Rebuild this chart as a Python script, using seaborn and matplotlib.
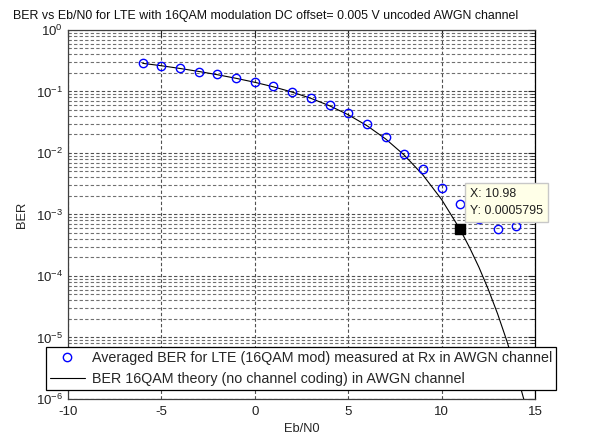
import numpy as np
import pandas as pd
import matplotlib
matplotlib.use("Agg")
import matplotlib.pyplot as plt
from matplotlib.lines import Line2D
from matplotlib.ticker import LogLocator, NullFormatter, MultipleLocator
import seaborn as sns

# Measured averaged BER (16QAM, DC offset 0.005 V, AWGN)
ebn0_meas = [-6, -5, -4, -3, -2, -1, 0, 1, 2, 3, 4, 5, 6, 7, 8, 9, 10, 11, 12, 13, 14]
ber_meas = [0.294, 0.263, 0.238, 0.210, 0.190, 0.168, 0.141, 0.123, 0.0993, 0.0775,
            0.061, 0.0442, 0.0295, 0.018, 0.0098, 0.0054, 0.00273, 0.0015, 0.00085,
            0.00058, 0.00065]

# Theoretical 16QAM BER curve (no channel coding)
ebn0_theory = [-6, -5, -4, -3, -2, -1, 0, 1, 2, 3, 4, 5, 6, 7, 8, 9, 10,
               10.98, 11.5, 12, 12.5, 13, 13.5, 14, 14.5, 15]
ber_theory = [0.2868, 0.2621, 0.2367, 0.2117, 0.1872, 0.1637, 0.1410, 0.1190,
              0.09774, 0.07745, 0.05862, 0.04189, 0.02787, 0.01697, 0.009248,
              0.00439, 0.001754, 0.0005795, 0.0002893, 0.0001387, 6.068e-05,
              2.421e-05, 8.68e-06, 2.762e-06, 7.70e-07, 1.846e-07]

# Data tip
tip_x = 10.98
tip_y = 0.0005795

title = "BER vs Eb/N0 for LTE with 16QAM modulation DC offset= 0.005 V uncoded AWGN channel"
label_meas = "Averaged BER for LTE (16QAM mod) measured at Rx in AWGN channel"
label_theory = "BER 16QAM theory (no channel coding) in AWGN channel"

sns.set_style("white")
plt.rcParams["font.family"] = ["Liberation Sans", "DejaVu Sans"]
plt.rcParams["mathtext.fontset"] = "custom"
plt.rcParams["mathtext.rm"] = "Liberation Sans"
plt.rcParams["mathtext.it"] = "Liberation Sans"
plt.rcParams["mathtext.default"] = "regular"
plt.rcParams["axes.unicode_minus"] = False

fs = 8.9

fig = plt.figure(figsize=(5.98, 4.37), dpi=100)
fig.patch.set_facecolor("white")
ax = fig.add_axes([0.1137, 0.0870, 0.7809, 0.8444])

df_meas = pd.DataFrame({"EbN0": ebn0_meas, "BER": ber_meas})
df_theory = pd.DataFrame({"EbN0": ebn0_theory, "BER": ber_theory})

sns.lineplot(data=df_theory, x="EbN0", y="BER", ax=ax, color="black", lw=0.8,
             zorder=3, estimator=None, sort=False)
sns.lineplot(data=df_meas, x="EbN0", y="BER", ax=ax, marker="o", linestyle="none",
             mfc="none", mec="#0000FF", mew=1.0, ms=6, zorder=4,
             estimator=None, sort=False)

ax.set_yscale("log")
ax.set_xlim(-10, 15)
ax.set_ylim(1e-6, 1)
ax.xaxis.set_major_locator(MultipleLocator(5))
ax.yaxis.set_major_locator(LogLocator(base=10, numticks=10))
ax.yaxis.set_minor_locator(LogLocator(base=10, subs=np.arange(2, 10), numticks=20))
ax.yaxis.set_minor_formatter(NullFormatter())

grid_style = dict(linestyle=(0, (3, 2)), linewidth=0.8)
ax.grid(True, which="major", axis="both", color="#505050", **grid_style)
ax.grid(True, which="minor", axis="y", color="#707070", **grid_style)
ax.set_axisbelow(True)

for s in ax.spines.values():
    s.set_visible(True)
    s.set_color("#404040")
    s.set_linewidth(0.9)
ax.spines["right"].set_color("black")

ax.tick_params(which="both", direction="in", top=True, right=True,
               labelsize=fs + 0.6, colors="#202020")
ax.tick_params(which="major", length=5)
ax.tick_params(which="minor", length=3)
ax.tick_params(axis="x", pad=5)

fig.text(13 / 598, 1 - 16 / 437, title, fontsize=fs, ha="left", va="center",
         color="#101010")
ax.set_xlabel("Eb/N0", fontsize=fs + 0.4, labelpad=4)
ax.set_ylabel("BER", fontsize=fs + 0.4, labelpad=6)

# Data tip marker and box
ax.plot([tip_x], [tip_y], marker="s", ms=7, color="black", linestyle="none", zorder=6)
ax.annotate(f"X: {tip_x}\nY: {tip_y}", xy=(tip_x, tip_y), xytext=(10, 41),
            textcoords="offset pixels", ha="left", va="top", fontsize=fs,
            color="#202020", linespacing=1.6, zorder=7,
            bbox=dict(boxstyle="square,pad=0.4", fc="#FFFFE8", ec="#C8C8C8", lw=1.0))

handles = [
    Line2D([], [], marker="o", linestyle="none", mfc="none", mec="#0000FF", mew=1.0, ms=6),
    Line2D([], [], color="black", lw=0.8),
]
leg = ax.legend(handles, [label_meas, label_theory], loc="lower left",
                bbox_to_anchor=(0.0769, 0.1076), bbox_transform=fig.transFigure,
                fontsize=10.3, frameon=True, fancybox=False, framealpha=1,
                edgecolor="black", handlelength=2.4, handletextpad=0.5,
                borderpad=0.3, labelspacing=0.45, borderaxespad=0)
leg.get_frame().set_linewidth(0.9)
leg.set_zorder(10)

fig.savefig("out.png", dpi=100, facecolor="white")
